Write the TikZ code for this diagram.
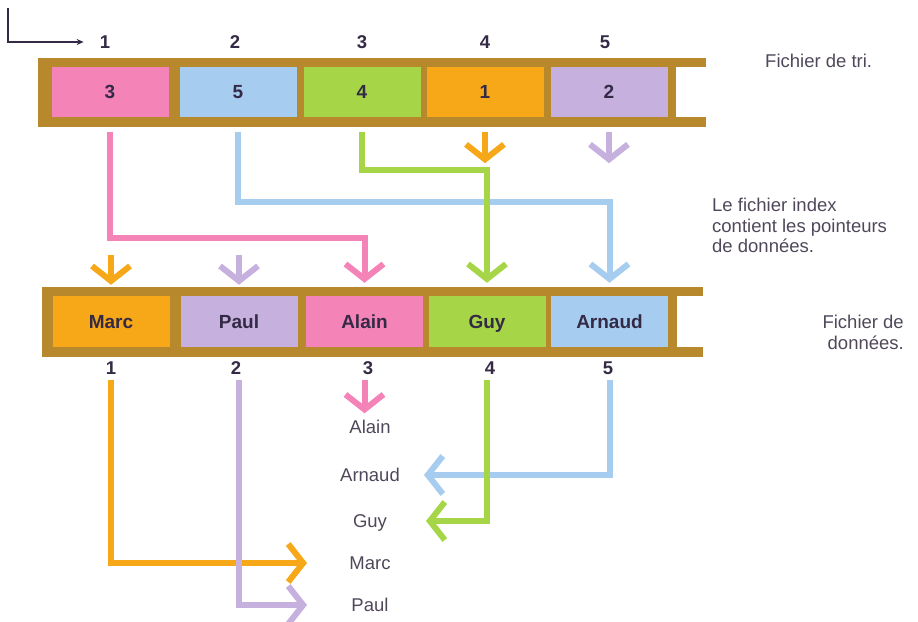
\documentclass[tikz,border=0pt]{standalone}
\usepackage{fontspec}
\setmainfont{Liberation Sans}
\usetikzlibrary{arrows.meta,calc}
\definecolor{barbrown}{RGB}{184,136,44}
\definecolor{pinkc}{RGB}{244,132,184}
\definecolor{bluec}{RGB}{166,204,240}
\definecolor{greenc}{RGB}{166,214,72}
\definecolor{orangec}{RGB}{246,168,24}
\definecolor{purplec}{RGB}{198,176,222}
\definecolor{inkdark}{RGB}{52,42,70}
\definecolor{inkgray}{RGB}{80,72,90}
\tikzset{
  cell/.style={minimum width=117pt, inner sep=0pt, text=inkdark, text height=13pt, text depth=0pt,
    font=\fontsize{19}{22}\selectfont\bfseries},
  num/.style={inner sep=0pt, text=inkdark, font=\fontsize{18.5}{22}\selectfont\bfseries},
  note/.style={inner sep=0pt, text=inkgray, font=\fontsize{18.5}{20.5}\selectfont},
  ptr/.style={line width=6pt, -{Straight Barb[length=15pt,width=38pt,sharp]}},
}

\begin{document}
\begin{tikzpicture}[x=1pt, y=-1pt]
\useasboundingbox (0,0) rectangle (918,621);

% the two strips
\fill[barbrown] (38,58) rectangle (676,127);
\fill[barbrown] (676,58) rectangle (706,67);
\fill[barbrown] (676,117) rectangle (706,127);
\fill[barbrown] (42,287) rectangle (677,357);
\fill[barbrown] (677,287) rectangle (703,296);
\fill[barbrown] (677,347) rectangle (703,357);

% index file
\foreach \x/\nx/\c/\v [count=\i] in {110/105/pinkc/3, 238/235/bluec/5, 362/362/greenc/4,
                                     485/485/orangec/1, 609/605/purplec/2} {
  \node[cell, fill=\c, minimum height=50pt] (t\i) at (\x,92) {\v};
  \node[num] (c\i) at (\nx,42) {\i};
}

% data file
\foreach \x/\nx/\c/\v [count=\i] in {111/111/orangec/Marc, 239/236/purplec/Paul, 364.5/368/pinkc/Alain,
                                     487/490/greenc/Guy, 609.5/608/bluec/Arnaud} {
  \node[cell, fill=\c, minimum height=51pt] (d\i) at (\x,321.5) {\v};
  \node[num] (e\i) at (\nx,368) {\i};
}

% sorted list
\foreach \n/\y [count=\i] in {Alain/427, Arnaud/475, Guy/521, Marc/563, Paul/605}
  \node[note, text height=13pt, text depth=0pt] (s\i) at (370,\y) {\n};

% notes
\node[note, anchor=base west] (ftri) at (765,67) {Fichier de tri.};
\node[note, anchor=north west, align=left] (findex) at (712,198)
  {Le fichier index\\contient les pointeurs\\de données.};
\node[note, anchor=north east, align=right] (fdata) at (904,315) {Fichier de\\données.};

% start mark
\coordinate (start) at (8,8);
\draw[inkdark, line width=1.2pt, -{Stealth[length=7pt,width=6pt]}, shorten >=16pt] (start) |- (c1.west);

% pointers of the index file
\draw[ptr, pinkc, shorten <=15pt, shorten >=13pt] (t1.south) -- (t1.south |- 0,238) -| (d3.north);
\draw[ptr, bluec, shorten <=15pt, shorten >=13pt] (t2.south) -- (t2.south |- 0,202) -| (d5.north);
\draw[ptr, greenc, shorten <=15pt, shorten >=13pt] (t3.south) -- (t3.south |- 0,170) -| (d4.north);
\coordinate (o4) at ($(t4.south)+(0,46)$);
\coordinate (o5) at ($(t5.south)+(0,46)$);
\draw[ptr, orangec, shorten <=15pt] (t4.south) -- (o4);
\draw[ptr, purplec, shorten <=15pt] (t5.south) -- (o5);
\coordinate (i1) at ($(d1.north)+(0,-41)$);
\coordinate (i2) at ($(d2.north)+(0,-41)$);
\draw[ptr, orangec, shorten >=11pt] (i1) -- (d1.north);
\draw[ptr, purplec, shorten >=11pt] (i2) -- (d2.north);

% reading in order
\draw[ptr, pinkc, shorten <=33pt, shorten >=7pt] (d3.south) -- (d3.south |- s1.north);
\draw[ptr, orangec, shorten <=33pt] (d1.south) |- (s4 -| 307,0);
\draw[ptr, purplec, shorten <=33pt] (d2.south) |- (s5 -| 307,0);
\draw[ptr, bluec, shorten <=33pt] (d5.south) |- (s2 -| 424,0);
\draw[ptr, greenc, shorten <=33pt] (d4.south) |- (s3 -| 426,0);
\end{tikzpicture}
\end{document}
